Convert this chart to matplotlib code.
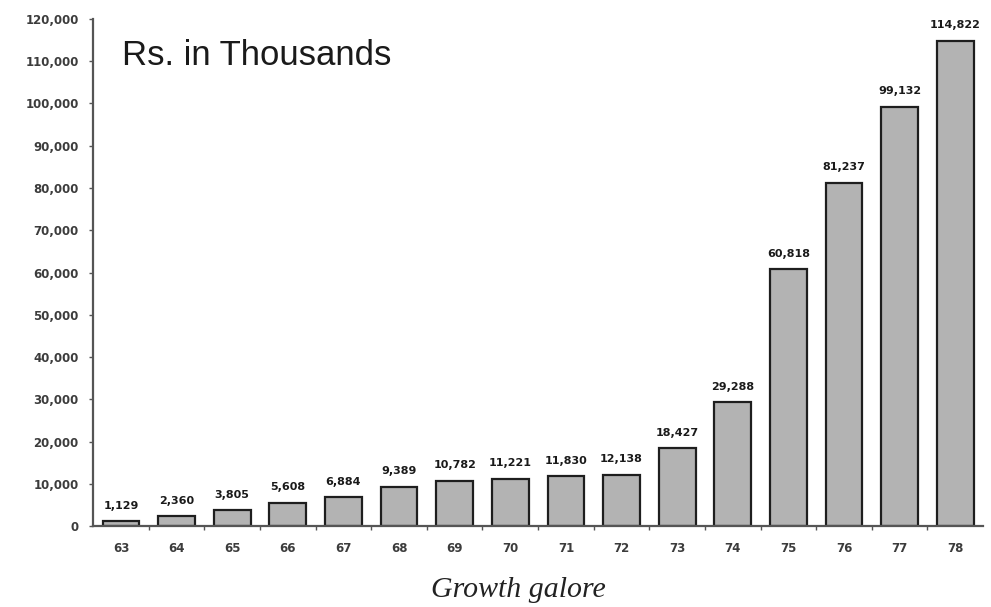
import matplotlib
matplotlib.use('Agg')
import matplotlib.pyplot as plt
from matplotlib.ticker import FuncFormatter

# Yearly figures, Rs. in thousands
years = ['63', '64', '65', '66', '67', '68', '69', '70',
         '71', '72', '73', '74', '75', '76', '77', '78']
values = [1129, 2360, 3805, 5608, 6884, 9389, 10782, 11221,
          11830, 12138, 18427, 29288, 60818, 81237, 99132, 114822]

fig = plt.figure(figsize=(9.91, 6.07), dpi=100)
ax = fig.add_axes([0.094, 0.133, 0.898, 0.836])

x = list(range(len(years)))
bars = ax.bar(x, values, width=0.66, color='#b3b3b3', edgecolor='#1e1e1e', linewidth=1.6)

# value labels on top of each bar
for b, v in zip(bars, values):
    ax.text(b.get_x() + b.get_width() / 2, v + 2500, f'{v:,}',
            ha='center', va='bottom', fontsize=8, fontweight='bold',
            family='DejaVu Sans', color='#1a1a1a')

ax.set_xlim(-0.5, len(years) - 0.5)
ax.set_ylim(0, 120000)
ax.set_yticks(range(0, 120001, 10000))
ax.yaxis.set_major_formatter(FuncFormatter(lambda v, p: f'{int(v):,}'))

ax.set_xticks(x)
ax.set_xticklabels(years)
ax.set_xticks([i + 0.5 for i in x[:-1]], minor=True)
ax.tick_params(axis='x', which='major', length=0, pad=11.5)
ax.tick_params(axis='x', which='minor', length=3, width=1, color='#555555', direction='out')
ax.tick_params(axis='y', length=3, width=1, color='#555555', pad=7.5)

for lbl in ax.get_xticklabels() + ax.get_yticklabels():
    lbl.set_fontsize(8.5)
    lbl.set_fontweight('bold')
    lbl.set_family('DejaVu Sans')
    lbl.set_color('#3c3c3c')

for side in ['top', 'right']:
    ax.spines[side].set_visible(False)
for side in ['left', 'bottom']:
    ax.spines[side].set_color('#555555')
    ax.spines[side].set_linewidth(1.6)

fig.text(122 / 991, 1 - 65 / 607, 'Rs. in Thousands',
         fontsize=25, family='Liberation Sans', color='#1a1a1a',
         va='baseline', ha='left')

fig.text(0.523, 0.016, 'Growth galore', ha='center', va='baseline',
         fontsize=21.5, style='italic', family='Liberation Serif', color='#222222')

fig.savefig('out.png', dpi=100)
